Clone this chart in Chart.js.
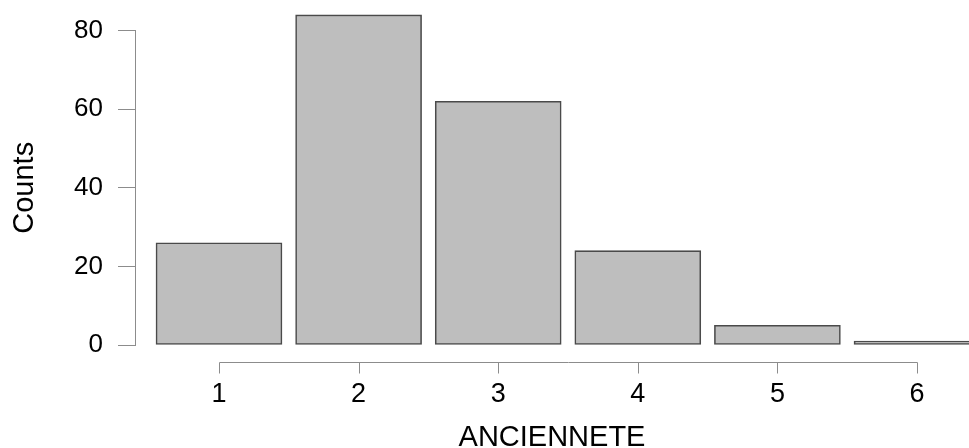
<!DOCTYPE html>
<html>
<head>
<meta charset="utf-8">
<style>
  html, body { margin: 0; padding: 0; background: #ffffff; overflow: hidden; }
  #wrap { width: 969px; height: 448px; }
</style>
<script src="https://cdn.jsdelivr.net/npm/chart.js@4.4.1/dist/chart.umd.min.js"></script>
</head>
<body>
<div id="wrap"><canvas id="chart" width="969" height="448"></canvas></div>
<script>
// Seniority classes and how many people fall in each
const categories = [1, 2, 3, 4, 5, 6];
const counts = [26, 84, 62, 24, 5, 1];
const yTicks = [0, 20, 40, 60, 80];
const xTitle = 'ANCIENNETE';
const yTitle = 'Counts';

const AXIS_GREY = '#8c8c8c';
const FONT = '"Liberation Sans", Arial, Helvetica, sans-serif';

// R-style category axis: a line spanning first to last tick, set below the bars
const detachedXAxis = {
  id: 'detachedXAxis',
  afterDraw(chart) {
    const x = chart.scales.x;
    const ctx = chart.ctx;
    const y0 = chart.chartArea.bottom + 17.5;
    const first = Math.round(x.getPixelForValue(categories[0])) + 0.5;
    const last = Math.round(x.getPixelForValue(categories[categories.length - 1])) + 0.5;
    ctx.save();
    ctx.strokeStyle = AXIS_GREY;
    ctx.lineWidth = 1;
    ctx.beginPath();
    ctx.moveTo(first, y0);
    ctx.lineTo(last, y0);
    categories.forEach(c => {
      const px = Math.round(x.getPixelForValue(c)) + 0.5;
      ctx.moveTo(px, y0);
      ctx.lineTo(px, y0 + 11);
    });
    ctx.stroke();
    ctx.restore();
  }
};

new Chart(document.getElementById('chart'), {
  type: 'bar',
  data: {
    datasets: [{
      data: categories.map((c, i) => ({ x: c, y: counts[i] })),
      backgroundColor: '#bebebe',
      borderColor: '#4a4a4a',
      borderWidth: 1.6,
      borderSkipped: false,
      barThickness: 126,
      clip: false
    }]
  },
  options: {
    responsive: false,
    animation: false,
    events: [],
    layout: { padding: { top: 30, right: 0, bottom: 0, left: 0 } },
    plugins: {
      legend: { display: false },
      tooltip: { enabled: false },
      title: { display: false }
    },
    scales: {
      x: {
        type: 'linear',
        offset: false,
        min: 0.3983,
        max: 6.3725,
        afterBuildTicks(scale) { scale.ticks = categories.map(v => ({ value: v })); },
        afterFit(scale) { scale.height = 103; },
        grid: { display: false, offset: false, drawTicks: false, tickLength: 0 },
        border: { display: false },
        ticks: {
          padding: 33,
          maxRotation: 0,
          autoSkip: false,
          color: '#000000',
          font: { family: FONT, size: 27 },
          callback: v => String(v)
        },
        title: {
          display: true,
          text: xTitle,
          color: '#000000',
          font: { family: FONT, size: 29, lineHeight: 0.7 },
          padding: { top: 0, bottom: 0 }
        }
      },
      y: {
        type: 'linear',
        min: 0,
        max: 80,
        afterBuildTicks(scale) { scale.ticks = yTicks.map(v => ({ value: v })); },
        afterFit(scale) { scale.width = 135; },
        grid: {
          display: true,
          drawOnChartArea: false,
          drawTicks: true,
          tickLength: 17,
          color: AXIS_GREY,
          lineWidth: 1
        },
        border: { display: true, color: AXIS_GREY, width: 1 },
        ticks: {
          padding: 15,
          color: '#000000',
          font: { family: FONT, size: 26 }
        },
        title: {
          display: true,
          text: yTitle,
          color: '#000000',
          font: { family: FONT, size: 29, lineHeight: 1 },
          padding: { top: 10.5, bottom: 0 }
        }
      }
    }
  },
  plugins: [detachedXAxis]
});
</script>
</body>
</html>
